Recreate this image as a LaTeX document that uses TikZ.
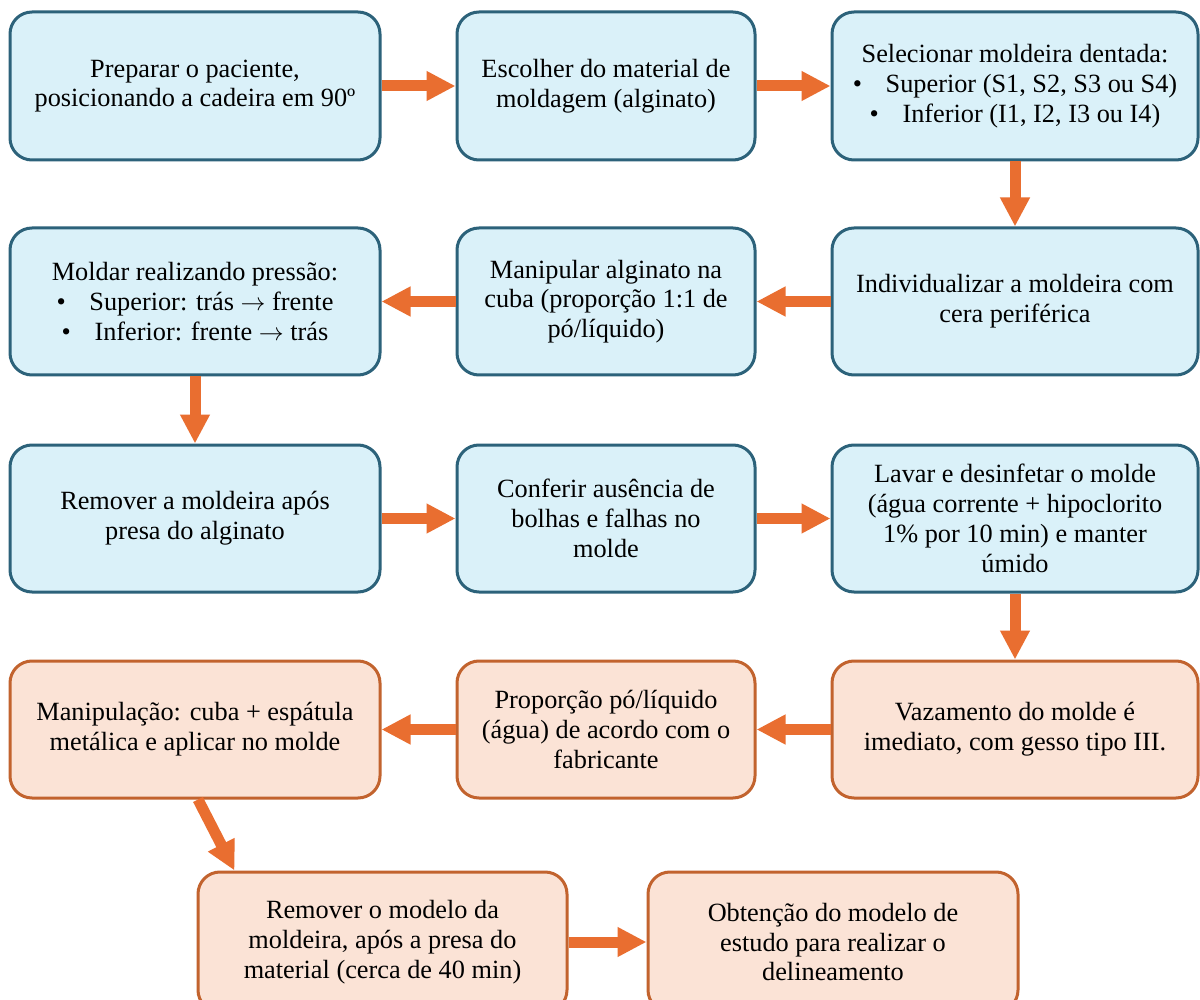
\documentclass[tikz,border=0pt]{standalone}
\usepackage{fontspec}
\setmainfont{Liberation Serif}
\usetikzlibrary{arrows.meta,calc}
\definecolor{bfill}{RGB}{218,241,249}
\definecolor{bdraw}{RGB}{44,98,122}
\definecolor{ofill}{RGB}{251,227,214}
\definecolor{odraw}{RGB}{194,99,46}
\definecolor{arr}{RGB}{233,110,48}
\newcommand{\rarr}{\ensuremath{\rightarrow}}
\tikzset{
  box/.style={rectangle, rounded corners=22pt, line width=3pt, align=center,
    inner sep=4pt, font=\fontsize{26.3}{29.8}\selectfont, text=black},
  bluebox/.style={box, draw=bdraw, fill=bfill},
  orangebox/.style={box, draw=odraw, fill=ofill},
  wide/.style={minimum width=370pt},
  mid/.style={minimum width=298pt},
  flow/.style={draw=arr, line width=11pt, -{Triangle[width=28pt,length=29pt]}}
}
\begin{document}
\begin{tikzpicture}[x=1pt,y=-1pt]
\clip (0,0) rectangle (1200,1000);
\fill[white] (0,0) rectangle (1200,1000);
% row 1
\node[bluebox, wide, minimum height=148pt] (A) at (195,86) {Preparar o paciente,\\posicionando a cadeira em 90º};
\node[bluebox, mid, minimum height=148pt] (B) at (606,86) {Escolher do material de\\moldagem (alginato)};
\node[bluebox, minimum width=366pt, minimum height=148pt] (C) at (1015,86) {Selecionar moldeira dentada:\\\textbullet\hspace{0.9em}Superior (S1, S2, S3 ou S4)\\\textbullet\hspace{0.9em}Inferior (I1, I2, I3 ou I4)};
% row 2
\node[bluebox, minimum width=366pt, minimum height=147pt] (D) at (1015,301.5) {Individualizar a moldeira com\\cera periférica};
\node[bluebox, mid, minimum height=147pt] (E) at (606,301.5) {Manipular alginato na\\cuba (proporção 1:1 de\\pó/líquido)};
\node[bluebox, wide, minimum height=147pt] (F) at (195,301.5) {Moldar realizando pressão:\\\textbullet\hspace{0.9em}Superior: trás \rarr{} frente\\\textbullet\hspace{0.9em}Inferior: frente \rarr{} trás};
% row 3
\node[bluebox, wide, minimum height=147pt] (G) at (195,518.5) {Remover a moldeira após\\presa do alginato};
\node[bluebox, mid, minimum height=147pt] (H) at (606,518.5) {Conferir ausência de\\bolhas e falhas no\\molde};
\node[bluebox, minimum width=366pt, minimum height=147pt] (I) at (1015,518.5) {Lavar e desinfetar o molde\\(água corrente + hipoclorito\\1\% por 10 min) e manter\\úmido};
% row 4
\node[orangebox, minimum width=366pt, minimum height=137pt] (J) at (1015,729.5) {Vazamento do molde é\\imediato, com gesso tipo III.};
\node[orangebox, mid, minimum height=137pt] (K) at (606,729.5) {Proporção pó/líquido\\(água) de acordo com o\\fabricante};
\node[orangebox, wide, minimum height=137pt] (L) at (195,729.5) {Manipulação: cuba + espátula\\metálica e aplicar no molde};
% row 5
\node[orangebox, minimum width=369pt, minimum height=140pt] (M) at (382.5,942) {Remover o modelo da\\moldeira, após a presa do\\material (cerca de 40 min)};
\node[orangebox, wide, minimum height=140pt] (N) at (833,942) {Obtenção do modelo de\\estudo para realizar o\\delineamento};
% connectors
\draw[flow] (A.east) -- (B.west);
\draw[flow] (B.east) -- (C.west);
\draw[flow] (C.south) -- (D.north);
\draw[flow] (D.west) -- (E.east);
\draw[flow] (E.west) -- (F.east);
\draw[flow] (F.south) -- (G.north);
\draw[flow] (G.east) -- (H.west);
\draw[flow] (H.east) -- (I.west);
\draw[flow] (I.south) -- (J.north);
\draw[flow] (J.west) -- (K.east);
\draw[flow] (K.west) -- (L.east);
\coordinate (Ls) at ($(L.south)+(3,0)$);
\coordinate (Mt) at ($(M.north west)+(38,0)$);
\draw[flow] (Ls) -- (Mt);
\draw[flow] (M.east) -- (N.west);
\end{tikzpicture}
\end{document}
